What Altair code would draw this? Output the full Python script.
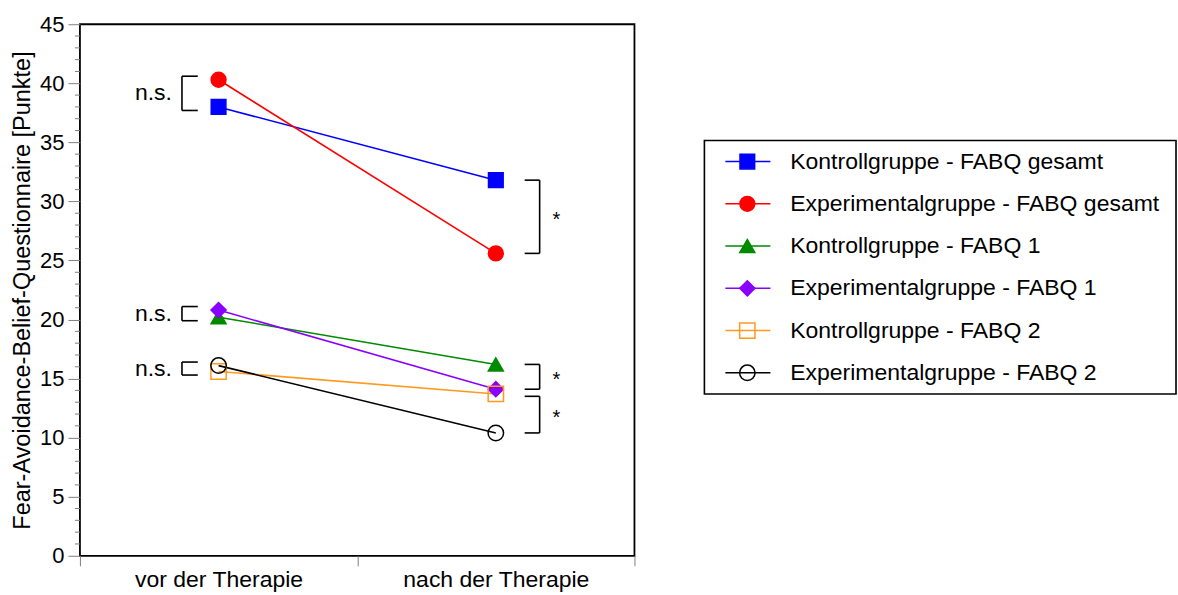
import altair as alt
import pandas as pd

# Messzeitpunkte und Gruppen
zeitpunkte = ["vor der Therapie", "nach der Therapie"]
serien = [
    "Kontrollgruppe - FABQ gesamt",
    "Experimentalgruppe - FABQ gesamt",
    "Kontrollgruppe - FABQ 1",
    "Experimentalgruppe - FABQ 1",
    "Kontrollgruppe - FABQ 2",
    "Experimentalgruppe - FABQ 2",
]
# Mittelwerte (Punkte)
vor = [38.0, 40.3, 20.2, 20.8, 15.6, 16.1]
nach = [31.8, 25.6, 16.2, 14.1, 13.7, 10.4]

# Signifikanzangaben: Paare von Gruppen je Zeitpunkt
paare = [(0, 1), (2, 3), (4, 5)]
sig_vor = ["n.s.", "n.s.", "n.s."]
sig_nach = ["*", "*", "*"]

# Achsenteilung
haupt_ticks = list(range(0, 46, 5))
neben_ticks = [v for v in range(0, 46) if v % 5 != 0]

# Darstellung
farben = ["#0000ff", "#ff0000", "#008a00", "#8a00ff", "#ff9a1f", "#000000"]
fuellungen = ["#0000ff", "#ff0000", "#008a00", "#8a00ff", "transparent", "transparent"]
formen = ["square", "circle", "triangle-up", "diamond", "square", "circle"]
groessen = [215, 240, 200, 185, 170, 170]
schrift = "Liberation Sans"

farb_skala = alt.Scale(domain=serien, range=farben)
fuell_skala = alt.Scale(domain=serien, range=fuellungen)
form_skala = alt.Scale(domain=serien, range=formen)
groessen_skala = alt.Scale(domain=serien, range=groessen)

zeilen = []
for i, s in enumerate(serien):
    for j, w in enumerate([vor[i], nach[i]]):
        zeilen.append({"serie": s, "zeit": zeitpunkte[j], "pos": j + 0.5, "wert": w, "nr": i})
df = pd.DataFrame(zeilen)

# Klammern links (vor) und rechts (nach)
segmente = []
texte = []
for k, (a, b) in enumerate(paare):
    oben = max(vor[a], vor[b]) + 0.3
    unten = min(vor[a], vor[b]) - 0.3
    xv, xh = 0.5 - 0.132, 0.5 - 0.075
    segmente += [
        {"x": xv, "x2": xv, "y": unten, "y2": oben},
        {"x": xv, "x2": xh, "y": oben, "y2": oben},
        {"x": xv, "x2": xh, "y": unten, "y2": unten},
    ]
    texte.append({"x": 0.5 - 0.168, "y": (oben + unten) / 2, "t": sig_vor[k], "seite": "links"})

einzug = [0.0, 0.0, 0.2]
for k, (a, b) in enumerate(paare):
    oben = max(nach[a], nach[b]) - einzug[k]
    unten = min(nach[a], nach[b])
    xh, xv = 1.5 + 0.104, 1.5 + 0.158
    segmente += [
        {"x": xv, "x2": xv, "y": unten, "y2": oben},
        {"x": xh, "x2": xv, "y": oben, "y2": oben},
        {"x": xh, "x2": xv, "y": unten, "y2": unten},
    ]
    texte.append({"x": 1.5 + 0.218, "y": (oben + unten) / 2, "t": sig_nach[k], "seite": "rechts"})

seg_df = pd.DataFrame(segmente)
txt_df = pd.DataFrame(texte)

label_expr = " : ".join(
    f"datum.value === {j + 0.5} ? '{t}'" for j, t in enumerate(zeitpunkte)
) + " : ''"

x_skala = alt.Scale(domain=[0, len(zeitpunkte)], nice=False)
y_skala = alt.Scale(domain=[0, 45], nice=False, zero=True)

x_achse = alt.Axis(
    values=[0, 0.5, 1, 1.5, 2],
    labelExpr=label_expr,
    tickOpacity={"condition": {"test": "datum.value % 1 === 0", "value": 1}, "value": 0},
    tickSize=10,
    tickColor="#808080",
    domain=False,
    grid=False,
    labelFontSize=23,
    labelColor="black",
    labelPadding=3,
    labelLimit=400,
    labelOverlap=False,
    title=None,
)
y_achse = alt.Axis(
    values=haupt_ticks,
    tickSize=12,
    tickColor="#808080",
    domain=False,
    grid=False,
    labelFontSize=22,
    labelColor="black",
    labelPadding=4,
    labelOverlap=False,
    title="Fear-Avoidance-Belief-Questionnaire [Punkte]",
    titleFontSize=23.5,
    titleFontWeight="normal",
    titleColor="black",
    titlePadding=5,
    titleLimit=700,
)

basis = alt.Chart(df)
linien = basis.mark_line(strokeWidth=1.6).encode(
    x=alt.X("pos:Q", scale=x_skala, axis=x_achse),
    y=alt.Y("wert:Q", scale=y_skala, axis=y_achse),
    color=alt.Color("serie:N", scale=farb_skala, legend=None),
    order=alt.Order("pos:Q"),
)
punkte = basis.mark_point(opacity=1, strokeWidth=1.5).encode(
    x=alt.X("pos:Q", scale=x_skala),
    y=alt.Y("wert:Q", scale=y_skala),
    shape=alt.Shape("serie:N", scale=form_skala, legend=None),
    stroke=alt.Stroke("serie:N", scale=farb_skala, legend=None),
    fill=alt.Fill("serie:N", scale=fuell_skala, legend=None),
    size=alt.Size("serie:N", scale=groessen_skala, legend=None),
)
# kurze Zwischenstriche an der y-Achse
neben = alt.Chart(pd.DataFrame({"v": neben_ticks})).mark_rule(
    color="#808080", strokeWidth=1
).encode(
    x=alt.value(-5), x2=alt.value(0),
    y=alt.Y("v:Q", scale=y_skala),
)
klammern = alt.Chart(seg_df).mark_rule(color="black", strokeWidth=1.6).encode(
    x=alt.X("x:Q", scale=x_skala), x2="x2:Q",
    y=alt.Y("y:Q", scale=y_skala), y2="y2:Q",
)
ns_text = alt.Chart(txt_df).transform_filter("datum.seite === 'links'").mark_text(
    align="right", baseline="middle", fontSize=23, color="black", font=schrift
).encode(x=alt.X("x:Q", scale=x_skala), y=alt.Y("y:Q", scale=y_skala), text="t:N")
stern_text = alt.Chart(txt_df).transform_filter("datum.seite === 'rechts'").mark_text(
    align="center", baseline="middle", fontSize=20, color="black", font=schrift, dy=3
).encode(x=alt.X("x:Q", scale=x_skala), y=alt.Y("y:Q", scale=y_skala), text="t:N")

haupt = alt.layer(linien, neben, punkte, klammern, ns_text, stern_text).properties(
    width=555, height=532,
    view=alt.ViewBackground(stroke="black", strokeWidth=1.8),
)

# Legende als eigenes Feld mit Linie, Symbol und Beschriftung
leg_df = pd.DataFrame({"serie": serien, "zeile": list(range(len(serien)))})
lx = alt.Scale(domain=[0, 1], nice=False)
ly = alt.Scale(domain=[-3.25, 9.33], nice=False, zero=False, reverse=True)
leg_basis = alt.Chart(leg_df)
leg_linie = leg_basis.mark_rule(strokeWidth=1.6).encode(
    x=alt.X(datum=0.0445, scale=lx, axis=None),
    x2=alt.X2(datum=0.14),
    y=alt.Y("zeile:Q", scale=ly, axis=None),
    color=alt.Color("serie:N", scale=farb_skala, legend=None),
)
leg_punkt = leg_basis.mark_point(opacity=1, strokeWidth=1.5).encode(
    x=alt.X(datum=0.091, scale=lx, axis=None),
    y=alt.Y("zeile:Q", scale=ly, axis=None),
    shape=alt.Shape("serie:N", scale=form_skala, legend=None),
    stroke=alt.Stroke("serie:N", scale=farb_skala, legend=None),
    fill=alt.Fill("serie:N", scale=fuell_skala, legend=None),
    size=alt.Size("serie:N", scale=groessen_skala, legend=None),
)
leg_text = leg_basis.mark_text(
    align="left", baseline="middle", fontSize=23, color="black", font=schrift
).encode(
    x=alt.X(datum=0.182, scale=lx, axis=None),
    y=alt.Y("zeile:Q", scale=ly, axis=None),
    text="serie:N",
)
leg_rahmen = alt.Chart(pd.DataFrame({"a": [0]})).mark_rect(
    filled=False, stroke="black", strokeWidth=1.6
).encode(
    x=alt.X(datum=0, scale=lx, axis=None),
    x2=alt.X2(datum=1),
    y=alt.Y(datum=-0.5, scale=ly, axis=None),
    y2=alt.Y2(datum=len(serien) - 0.5),
)
legende = alt.layer(leg_rahmen, leg_linie, leg_punkt, leg_text).properties(
    width=472, height=532,
    view=alt.ViewBackground(stroke="transparent"),
)

chart = alt.hconcat(haupt, legende, spacing=70, bounds="flush").properties(
    padding={"left": 9, "top": 12, "right": 0, "bottom": 0},
).configure(font=schrift).configure_axis(labelFont=schrift, titleFont=schrift)

chart.save("out.html", embed_options={"renderer": "svg", "actions": False})
